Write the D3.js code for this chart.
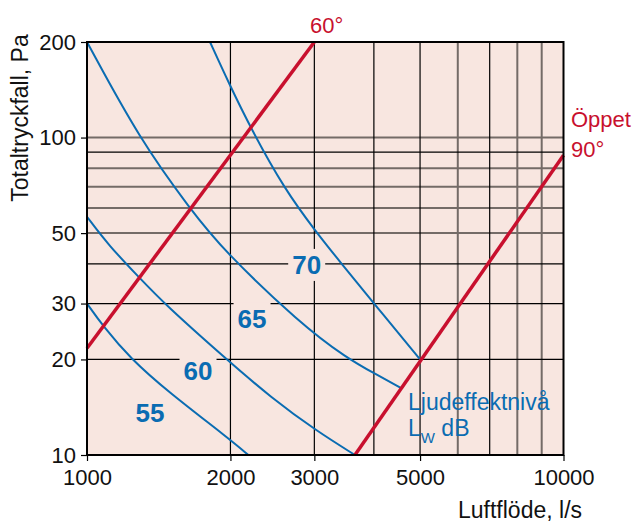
<!DOCTYPE html>
<html><head><meta charset="utf-8">
<script src="https://cdn.jsdelivr.net/npm/d3@7"></script>
<style>body{margin:0;background:#fff}svg{display:block}text{font-family:"Liberation Sans",Arial,sans-serif}</style>
</head><body><svg id="c" width="636" height="524"></svg>
<script>
// ---- data ----
const xTicks = [1000, 2000, 3000, 5000, 10000];
const yTicks = [10, 20, 30, 50, 100, 200];
const xGridBlack = [2000, 3000, 4000, 5000, 7000];
const xGridGray = [6000, 8000, 9000];
const yGridBlack = [20, 30, 40, 90];
const yGridGray = [50, 60, 70, 80, 100];

const curveLabels = ["55", "60", "65", "70"];
const curve55 = [[1000,30],[1082,25.4],[1231,20.2],[1481,15.8],[1980,11.3],[2181,10]];
const curve60 = [[1000,56.3],[1108,45.9],[1292,36.0],[1458,29.8],[1948,20.2],[2442,15.1],[3034,11.9],[3651,10]];
const curve65 = [[1000,200],[1292,98.3],[1653,59.1],[1932,44.2],[2799,26.0],[3508,20.2],[4055,17.9],[4576,16.2]];
const curve70 = [[1812,200],[1986,148],[2206,107],[2603,68.4],[3024,50.5],[3396,40.6],[4055,29.3],[5000,20]];
const damper60 = [[1000,21.7],[3000,200]];
const damperOpen = [[3650,10],[10000,88]];
const labelPos = [[1356,13.6],[1710,18.5],[2220,26.9],[2891,39.7]];

// ---- layout ----
const svg = d3.select("#c");
const L = 87, R = 563.5, T = 42, B = 455;
const x = d3.scaleLog().domain([1000, 10000]).range([L, R]);
const y = d3.scaleLog().domain([10, 200]).range([B, T]);
const BG = "#f8e6e0", RED = "#c8102e", BLUE = "#0a6cb2", GRAY = "#746b67";

svg.append("rect").attr("x", L).attr("y", T).attr("width", R - L).attr("height", B - T).attr("fill", BG);

const g = svg.append("g");
g.selectAll(".vg").data(xGridGray).join("line")
  .attr("x1", d => x(d)).attr("x2", d => x(d)).attr("y1", T).attr("y2", B)
  .attr("stroke", GRAY).attr("stroke-width", 2);
g.selectAll(".hg").data(yGridGray).join("line")
  .attr("x1", L).attr("x2", R).attr("y1", d => y(d)).attr("y2", d => y(d))
  .attr("stroke", GRAY).attr("stroke-width", 2);
g.selectAll(".vb").data(xGridBlack).join("line")
  .attr("x1", d => x(d)).attr("x2", d => x(d)).attr("y1", T).attr("y2", B)
  .attr("stroke", "#000").attr("stroke-width", 1.2);
g.selectAll(".hb").data(yGridBlack).join("line")
  .attr("x1", L).attr("x2", R).attr("y1", d => y(d)).attr("y2", d => y(d))
  .attr("stroke", "#000").attr("stroke-width", 1.2);

// masks behind curve labels
labelPos.forEach(p => {
  const cx = x(p[0]), cy = y(p[1]);
  svg.append("rect").attr("x", cx - 18.5).attr("y", cy - 16).attr("width", 37).attr("height", 32).attr("fill", BG);
});

const line = d3.line().x(d => x(d[0])).y(d => y(d[1])).curve(d3.curveBasis);
[curve55, curve60, curve65, curve70].forEach(c => {
  svg.append("path").attr("d", line(c)).attr("fill", "none").attr("stroke", BLUE).attr("stroke-width", 2);
});
const sline = d3.line().x(d => x(d[0])).y(d => y(d[1]));
[damper60, damperOpen].forEach(c => {
  svg.append("path").attr("d", sline(c)).attr("fill", "none").attr("stroke", RED).attr("stroke-width", 3.5);
});

labelPos.forEach((p, i) => {
  svg.append("text").attr("x", x(p[0])).attr("y", y(p[1]) + 9.5).attr("text-anchor", "middle")
    .attr("font-size", 26).attr("font-weight", "bold").attr("fill", BLUE).text(curveLabels[i]);
});

// frame
svg.append("rect").attr("x", L).attr("y", T).attr("width", R - L).attr("height", B - T)
  .attr("fill", "none").attr("stroke", "#000").attr("stroke-width", 2);

// axes
const xAxis = d3.axisBottom(x).tickValues(xTicks).tickFormat(d3.format("d")).tickSize(6).tickPadding(8);
const ax = svg.append("g").attr("transform", `translate(0,${B})`).call(xAxis);
ax.select(".domain").remove();
ax.selectAll("line").attr("stroke", "#000").attr("stroke-width", 1.2);
ax.selectAll("text").attr("font-size", 22).attr("fill", "#111").attr("font-family", "Liberation Sans, Arial, sans-serif");

const yAxis = d3.axisLeft(y).tickValues(yTicks).tickFormat(d3.format("d")).tickSize(6).tickPadding(5);
const ay = svg.append("g").attr("transform", `translate(${L},0)`).call(yAxis);
ay.select(".domain").remove();
ay.selectAll("line").attr("stroke", "#000").attr("stroke-width", 1.2);
ay.selectAll("text").attr("font-size", 22).attr("fill", "#111").attr("font-family", "Liberation Sans, Arial, sans-serif");

// titles
svg.append("text").attr("transform", "translate(28,118) rotate(-90)").attr("text-anchor", "middle")
  .attr("font-size", 23).attr("fill", "#111").text("Totaltryckfall, Pa");
svg.append("text").attr("x", 458).attr("y", 518).attr("font-size", 23).attr("fill", "#111").text("Luftflöde, l/s");

svg.append("text").attr("x", 310).attr("y", 33).attr("font-size", 22).attr("fill", RED).text("60°");
svg.append("text").attr("x", 571).attr("y", 127).attr("font-size", 22).attr("fill", RED).text("Öppet");
svg.append("text").attr("x", 571).attr("y", 157).attr("font-size", 22).attr("fill", RED).text("90°");

svg.append("text").attr("x", 408).attr("y", 410).attr("font-size", 23).attr("fill", BLUE).text("Ljudeffektnivå");
const t2 = svg.append("text").attr("x", 408).attr("y", 436).attr("font-size", 23).attr("fill", BLUE);
t2.append("tspan").text("L");
t2.append("tspan").attr("font-size", 15).attr("dy", 7).text("W");
t2.append("tspan").attr("dy", -7).text(" dB");
</script></body></html>
